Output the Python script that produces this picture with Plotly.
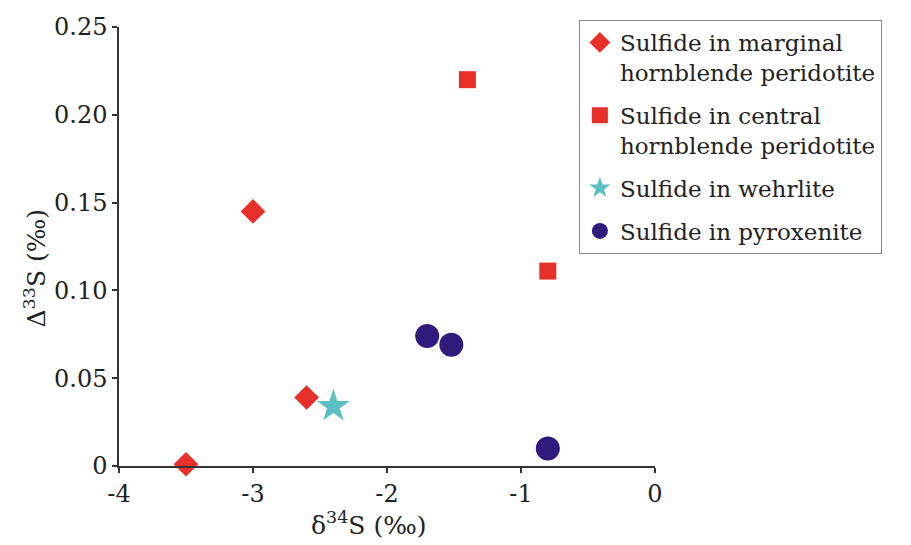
import plotly.graph_objects as go

# Data
marginal_x = [-3.5, -3.0, -2.6]
marginal_y = [0.001, 0.145, 0.039]
central_x = [-1.4, -0.8]
central_y = [0.22, 0.111]
wehrlite_x = [-2.4]
wehrlite_y = [0.034]
pyrox_x = [-1.7, -1.52, -0.8]
pyrox_y = [0.074, 0.069, 0.010]

x_tickvals = [-4, -3, -2, -1, 0]
x_ticktext = ["-4", "-3", "-2", "-1", "0"]
y_tickvals = [0, 0.05, 0.10, 0.15, 0.20, 0.25]
y_ticktext = ["0", "0.05", "0.10", "0.15", "0.20", "0.25"]

x_title = "δ<sup>34</sup>S (‰)"
y_title = "Δ<sup>33</sup>S (‰)"

FONT = "DejaVu Serif"
TXT = "#222222"

fig = go.Figure()
fig.add_trace(go.Scatter(
    x=marginal_x, y=marginal_y, mode="markers", legendgroup="a",
    name="Sulfide in marginal<br>hornblende peridotite",
    marker=dict(symbol="diamond", size=19, color="#e8302a"),
))
fig.add_trace(go.Scatter(
    x=central_x, y=central_y, mode="markers", legendgroup="b",
    name="Sulfide in central<br>hornblende peridotite",
    marker=dict(symbol="square", size=17, color="#e8302a"),
))
fig.add_trace(go.Scatter(
    x=wehrlite_x, y=wehrlite_y, mode="markers", legendgroup="c",
    name="Sulfide in wehrlite",
    marker=dict(symbol="star", size=25, color="#5cbfc2"),
))
fig.add_trace(go.Scatter(
    x=pyrox_x, y=pyrox_y, mode="markers", legendgroup="d",
    name="Sulfide in pyroxenite",
    marker=dict(symbol="circle", size=24, color="#2f1b7c"),
))

fig.update_traces(cliponaxis=False)

fig.update_layout(
    width=911, height=545,
    margin=dict(l=111, r=264, t=16, b=87),
    paper_bgcolor="white", plot_bgcolor="white",
    font=dict(family=FONT, color=TXT, size=22),
    showlegend=True,
    legend=dict(
        x=0.858, y=1.016, xanchor="left", yanchor="top",
        bordercolor="#888888", borderwidth=1, bgcolor="white",
        font=dict(family=FONT, size=23, color=TXT),
        valign="top", itemsizing="trace", tracegroupgap=10,
    ),
    xaxis=dict(
        range=[-4, 0], tickvals=x_tickvals, ticktext=x_ticktext,
        showgrid=False, zeroline=False, showline=True, automargin=False,
        linecolor="#333333", linewidth=1.5,
        ticks="outside", ticklen=5, tickcolor="#333333", tickwidth=1.5,
        tickfont=dict(size=24),
    ),
    yaxis=dict(
        range=[0, 0.25], tickvals=y_tickvals, ticktext=y_ticktext,
        showgrid=False, zeroline=False, showline=True, automargin=False,
        linecolor="#333333", linewidth=1.5,
        ticks="outside", ticklen=5, tickcolor="#333333", tickwidth=1.5,
        tickfont=dict(size=24),
    ),
    annotations=[
        dict(text=x_title, xref="paper", yref="paper", x=0.466, y=0,
             yshift=-57, xanchor="center", yanchor="middle",
             showarrow=False, font=dict(size=25)),
        dict(text=y_title, xref="paper", yref="paper", x=0, y=0.45,
             xshift=-84, xanchor="center", yanchor="middle", textangle=-90,
             showarrow=False, font=dict(size=25)),
    ],
)

fig.write_html("out.html")
